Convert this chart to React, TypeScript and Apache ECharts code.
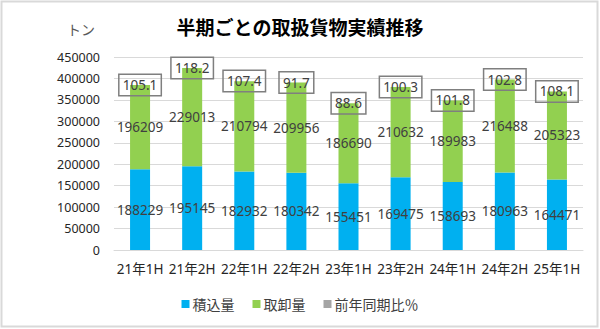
import React, { useEffect, useRef } from "react";
import * as echarts from "echarts";

const categories = ["21年1H", "21年2H", "22年1H", "22年2H", "23年1H", "23年2H", "24年1H", "24年2H", "25年1H"];
const loading = [188229, 195145, 182932, 180342, 155451, 169475, 158693, 180963, 164471];
const unloading = [196209, 229013, 210794, 209956, 186690, 210632, 189983, 216488, 205323];
const yoyRatio = [105.1, 118.2, 107.4, 91.7, 88.6, 100.3, 101.8, 102.8, 108.1];

const FONT = "'Noto Sans', 'Noto Sans CJK JP', sans-serif";
const CJK = "'Noto Sans CJK JP', sans-serif";

export default function App() {
  const ref = useRef<HTMLDivElement>(null);
  useEffect(() => {
    document.body.style.margin = "0";
    const chart = echarts.init(ref.current!, null, { renderer: "svg" });
    const labelStyle = {
      show: true,
      position: "inside" as const,
      color: "#404040",
      fontSize: 13.5,
      fontFamily: FONT,
    };
    chart.setOption({
      animation: false,
      backgroundColor: "#ffffff",
      textStyle: { fontFamily: FONT },
      title: {
        text: "半期ごとの取扱貨物実績推移",
        left: "center",
        top: 12,
        textStyle: { fontSize: 19, fontWeight: "bold", color: "#000", fontFamily: CJK },
      },
      graphic: [
        {
          type: "rect",
          shape: { x: 1.5, y: 1.5, width: 596, height: 325 },
          style: { fill: "none", stroke: "#d9d9d9", lineWidth: 2 },
          silent: true,
        },
        {
          type: "text",
          left: 67,
          top: 22,
          style: { text: "トン", fontSize: 14, fill: "#595959", fontFamily: CJK },
        },
      ],
      legend: {
        bottom: 13,
        left: "center",
        itemWidth: 8,
        itemHeight: 8,
        itemGap: 18,
        icon: "rect",
        textStyle: { fontSize: 14, color: "#404040", fontFamily: CJK, padding: [0, 0, 0, -2] },
        data: ["積込量", "取卸量", "前年同期比％"],
      },
      grid: { left: 114, right: 17, top: 57, bottom: 79 },
      xAxis: {
        type: "category",
        data: categories,
        axisLine: { lineStyle: { color: "#d9d9d9", width: 1 } },
        axisTick: { show: false },
        axisLabel: { fontSize: 13.5, color: "#262626", margin: 12, fontFamily: FONT, interval: 0 },
      },
      yAxis: {
        type: "value",
        min: 0,
        max: 450000,
        interval: 50000,
        axisLine: { show: false },
        axisTick: { show: false },
        splitLine: { lineStyle: { color: "#d9d9d9", width: 1 } },
        axisLabel: {
          fontSize: 12.5,
          color: "#262626",
          margin: 14,
          fontFamily: FONT,
          formatter: (v: number) => String(v),
        },
      },
      series: [
        {
          name: "積込量",
          type: "bar",
          stack: "total",
          barWidth: 20,
          data: loading,
          itemStyle: { color: "#00b0f0" },
          label: labelStyle,
        },
        {
          name: "取卸量",
          type: "bar",
          stack: "total",
          barWidth: 20,
          data: unloading,
          itemStyle: { color: "#92d050" },
          label: labelStyle,
        },
        {
          name: "前年同期比％",
          type: "bar",
          stack: "total",
          barWidth: 20,
          data: yoyRatio,
          itemStyle: { color: "#a5a5a5" },
          label: {
            ...labelStyle,
            borderColor: "#7f7f7f",
            borderWidth: 1.5,
            padding: [5, 4, 3, 4],
          },
        },
      ],
    });
    return () => chart.dispose();
  }, []);
  return <div ref={ref} style={{ position: "absolute", left: 0, top: 0, width: 600, height: 329 }} />;
}
